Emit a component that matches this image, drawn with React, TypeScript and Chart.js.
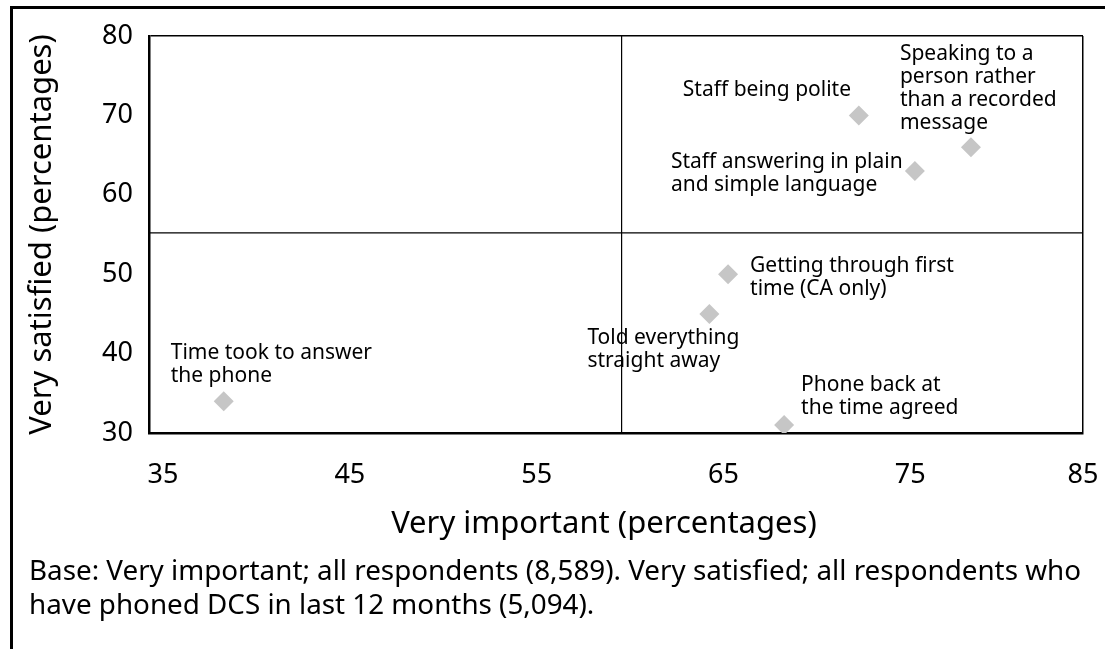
import React, { useEffect, useRef } from 'react';
import { Chart, registerables } from 'chart.js';

Chart.register(...registerables);

const FONT = '"Noto Sans", sans-serif';

// ---- data ----
const itemLabels: string[][] = [
  ['Time took to answer', 'the phone'],
  ['Told everything', 'straight away'],
  ['Getting through first', 'time (CA only)'],
  ['Phone back at', 'the time agreed'],
  ['Staff being polite'],
  ['Staff answering in plain', 'and simple language'],
  ['Speaking to a', 'person rather', 'than a recorded', 'message'],
];
const veryImportant = [39, 65, 66, 69, 73, 76, 79];
const verySatisfied = [34, 45, 50, 31, 70, 63, 66];
const xTicks = [35, 45, 55, 65, 75, 85];
const yTicks = [30, 40, 50, 60, 70, 80];
const quadrantX = [60.3];
const quadrantY = [55.2];
const xTitle = 'Very important (percentages)';
const yTitle = 'Very satisfied (percentages)';
const footnote = [
  'Base: Very important; all respondents (8,589). Very satisfied; all respondents who',
  'have phoned DCS in last 12 months (5,094).',
];

// label placement: pixel offset of the label's first baseline-left from its marker
const labelPlacement: [number, number][] = [
  [-53, -42],
  [-122, 30],
  [22, -2],
  [17, -34],
  [-176, -19],
  [-244, -3],
  [-71, -87],
];

const pointLabelsPlugin = {
  id: 'pointLabels',
  afterDatasetsDraw(chart: any) {
    const meta = chart.getDatasetMeta(0);
    const ctx = chart.ctx;
    ctx.save();
    ctx.font = `21px ${FONT}`;
    ctx.fillStyle = '#000';
    ctx.textAlign = 'left';
    ctx.textBaseline = 'alphabetic';
    meta.data.forEach((el: any, i: number) => {
      const [dx, dy] = labelPlacement[i];
      itemLabels[i].forEach((line, j) => {
        ctx.fillText(line, el.x + dx, el.y + dy + j * 23);
      });
    });
    ctx.restore();
  },
};

export default function App() {
  const canvasRef = useRef<HTMLCanvasElement | null>(null);

  useEffect(() => {
    if (!canvasRef.current) return;
    const xMin = xTicks[0];
    const xMax = xTicks[xTicks.length - 1];
    const yMin = yTicks[0];
    const yMax = yTicks[yTicks.length - 1];

    const chart = new Chart(canvasRef.current, {
      type: 'scatter',
      data: {
        datasets: [
          {
            label: 'Items',
            data: veryImportant.map((v, i) => ({ x: v, y: verySatisfied[i] })),
            pointStyle: 'rectRot',
            pointRadius: 10,
            pointBackgroundColor: '#c6c6c6',
            pointBorderWidth: 0,
            pointBorderColor: '#c6c6c6',
          },
          {
            label: 'Vertical divider',
            data: [
              { x: quadrantX[0], y: yMin },
              { x: quadrantX[0], y: yMax },
            ],
            showLine: true,
            borderColor: '#000',
            borderWidth: 1.2,
            pointRadius: 0,
          },
          {
            label: 'Horizontal divider',
            data: [
              { x: xMin, y: quadrantY[0] },
              { x: xMax, y: quadrantY[0] },
            ],
            showLine: true,
            borderColor: '#000',
            borderWidth: 1.2,
            pointRadius: 0,
          },
        ],
      },
      options: {
        animation: false,
        responsive: false,
        events: [],
        layout: { padding: { left: 29, right: 22, top: 36, bottom: 0 } },
        plugins: {
          legend: { display: false },
          tooltip: { enabled: false },
          title: {
            display: true,
            position: 'bottom',
            align: 'start',
            text: footnote,
            color: '#000',
            font: { family: FONT, size: 27.8, weight: 'normal', lineHeight: '34px' },
            padding: { top: 10, bottom: 26 },
          },
        },
        scales: {
          x: {
            type: 'linear',
            min: xMin,
            max: xMax,
            z: 1,
            afterBuildTicks: (scale: any) => {
              scale.ticks = xTicks.map((v) => ({ value: v }));
            },
            afterFit: (scale: any) => {
              scale.height = 112;
            },
            ticks: {
              color: '#000',
              font: { family: FONT, size: 27 },
              padding: 0,
              maxRotation: 0,
              autoSkip: false,
              callback: (value: any, index: number) =>
                index < xTicks.length - 1 ? '    ' + value : String(value),
            },
            grid: {
              drawTicks: true,
              tickLength: 26,
              tickColor: 'rgba(0,0,0,0)',
              lineWidth: 1.5,
              color: (c: any) => (c.tick && c.tick.value === xMax ? '#000' : 'rgba(0,0,0,0)'),
            },
            border: { display: true, color: '#000', width: 2.5 },
            title: {
              display: true,
              text: xTitle + '   ',
              color: '#000',
              font: { family: FONT, size: 31 },
              padding: { top: 0, bottom: 2 },
            },
          },
          y: {
            type: 'linear',
            min: yMin,
            max: yMax,
            z: 1,
            afterBuildTicks: (scale: any) => {
              scale.ticks = yTicks.map((v) => ({ value: v }));
            },
            afterFit: (scale: any) => {
              scale.width = 120;
            },
            ticks: {
              color: '#000',
              font: { family: FONT, size: 27 },
              padding: 16,
              autoSkip: false,
            },
            grid: {
              drawTicks: false,
              lineWidth: 1.5,
              color: (c: any) => (c.tick && c.tick.value === yMax ? '#000' : 'rgba(0,0,0,0)'),
            },
            border: { display: true, color: '#000', width: 2.5 },
            title: {
              display: true,
              text: yTitle,
              color: '#000',
              font: { family: FONT, size: 31, lineHeight: 1 },
              padding: { top: -2, bottom: 0 },
            },
          },
        },
      },
      plugins: [pointLabelsPlugin],
    } as any);

    return () => chart.destroy();
  }, []);

  return (
    <div style={{ position: 'absolute', left: 0, top: 0, width: 1105, height: 649, background: '#fff' }}>
      <canvas ref={canvasRef} width={1105} height={649} style={{ display: 'block' }} />
      <div
        style={{
          position: 'absolute',
          left: 10,
          top: 6,
          right: 0,
          bottom: 0,
          borderTop: '3px solid #000',
          borderLeft: '3px solid #000',
          pointerEvents: 'none',
        }}
      />
    </div>
  );
}
